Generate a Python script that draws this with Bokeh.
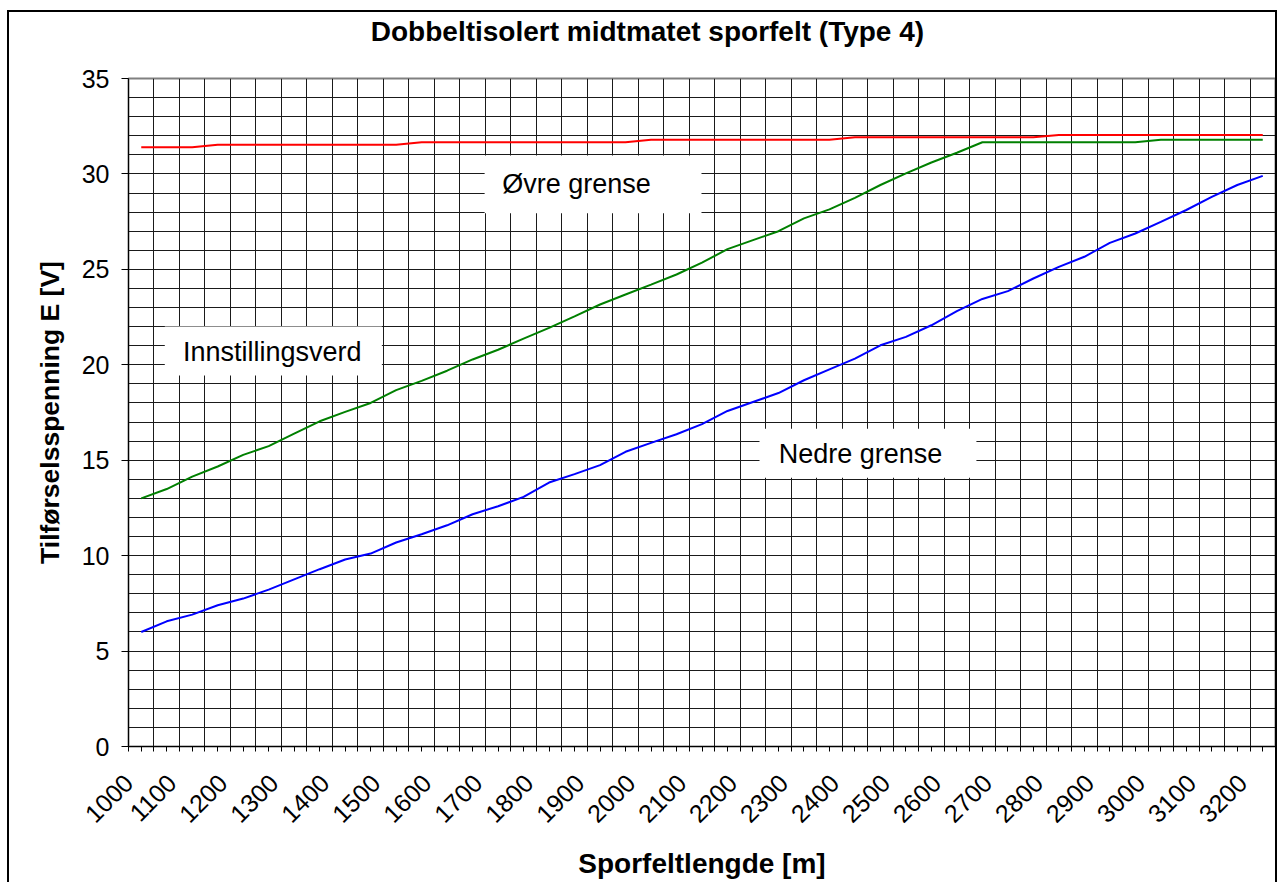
import math
from bokeh.plotting import figure
from bokeh.models import Range1d, FixedTicker, BoxAnnotation, Label, LinearAxis
from bokeh.embed import file_html
from bokeh.resources import INLINE

# ---------------- data ----------------
lengths = [1000, 1050, 1100, 1150, 1200, 1250, 1300, 1350, 1400, 1450,
           1500, 1550, 1600, 1650, 1700, 1750, 1800, 1850, 1900, 1950,
           2000, 2050, 2100, 2150, 2200, 2250, 2300, 2350, 2400, 2450,
           2500, 2550, 2600, 2650, 2700, 2750, 2800, 2850, 2900, 2950,
           3000, 3050, 3100, 3150, 3200]

upper = [31.4, 31.4, 31.4, 31.53, 31.53, 31.53, 31.53, 31.53, 31.53, 31.53,
         31.53, 31.66, 31.66, 31.66, 31.66, 31.66, 31.66, 31.66, 31.66, 31.66,
         31.79, 31.79, 31.79, 31.79, 31.79, 31.79, 31.79, 31.79, 31.92, 31.92,
         31.92, 31.92, 31.92, 31.92, 31.92, 31.92, 32.04, 32.04, 32.04, 32.04,
         32.04, 32.04, 32.04, 32.04, 32.04]

setting = [13.0, 13.49, 14.14, 14.67, 15.28, 15.74, 16.39, 17.04, 17.53, 18.0,
           18.67, 19.16, 19.69, 20.28, 20.79, 21.37, 21.93, 22.54, 23.16, 23.68,
           24.2, 24.73, 25.35, 26.06, 26.53, 27.0, 27.67, 28.14, 28.75, 29.42,
           30.03, 30.6, 31.11, 31.66, 31.66, 31.66, 31.66, 31.66, 31.66, 31.66,
           31.79, 31.79, 31.79, 31.79, 31.79]

lower = [6.0, 6.56, 6.91, 7.4, 7.75, 8.22, 8.76, 9.29, 9.8, 10.11,
         10.69, 11.12, 11.59, 12.17, 12.59, 13.08, 13.83, 14.27, 14.74, 15.44,
         15.91, 16.36, 16.89, 17.58, 18.05, 18.52, 19.19, 19.76, 20.32, 21.02,
         21.46, 22.07, 22.81, 23.45, 23.86, 24.52, 25.13, 25.66, 26.39, 26.88,
         27.49, 28.11, 28.8, 29.42, 29.9]

x_tick_labels = ["1000", "1100", "1200", "1300", "1400", "1500", "1600", "1700",
                 "1800", "1900", "2000", "2100", "2200", "2300", "2400", "2500",
                 "2600", "2700", "2800", "2900", "3000", "3100", "3200"]
y_ticks = [0, 5, 10, 15, 20, 25, 30, 35]

title_text = "Dobbeltisolert midtmatet sporfelt (Type 4)"
x_title = "Sporfeltlengde [m]"
y_title = "Tilførselsspenning E [V]"

# ---------------- layout helpers ----------------
FONT = "Liberation Sans"
step = lengths[1] - lengths[0]
half = step / 2
x_start = lengths[0] - half
x_end = lengths[-1] + half

p = figure(width=1270, height=872,
           x_range=Range1d(x_start, x_end), y_range=Range1d(0, 35),
           output_backend="svg", toolbar_location=None,
           min_border_left=119, min_border_right=4,
           min_border_top=66, min_border_bottom=138,
           background_fill_color="white", border_fill_color="white")

# chart-area border (Excel chart frame)
p.styles = {"margin-left": "7px", "margin-top": "10px",
            "border-top": "2px solid black", "border-left": "2px solid black",
            "border-right": "2px solid black"}

# plot-area border
p.outline_line_color = "#808080"
p.outline_line_width = 2

# ---------------- grids ----------------
boundaries = [x_start + step * k for k in range(1, len(lengths))]
xg = p.xgrid[0]
xg.ticker = FixedTicker(ticks=boundaries)
xg.grid_line_color = "#1a1a1a"
xg.grid_line_width = 1

yg = p.ygrid[0]
yg.ticker = FixedTicker(ticks=list(range(1, 35)))
yg.grid_line_color = "#1a1a1a"
yg.grid_line_width = 1

# ---------------- axes ----------------
# visible small tick marks every half category (minor ticks);
# invisible major ticks only carry the rotated category labels
half_ticks = [x_start + half * k for k in range(0, 2 * len(lengths) + 1)]
label_shift = 40  # rotated Excel labels sit left of their category centre
label_pos = [max(x_start, int(s) - label_shift) for s in x_tick_labels]
overrides = {pos: s for pos, s in zip(label_pos, x_tick_labels)}

xa = p.xaxis[0]
xa.ticker = FixedTicker(ticks=label_pos, minor_ticks=half_ticks)
xa.major_label_overrides = overrides
xa.major_label_orientation = math.pi / 4
xa.major_tick_out = 28
xa.major_tick_in = 0
xa.major_tick_line_color = None
xa.minor_tick_out = 5
xa.minor_tick_in = 0
xa.minor_tick_line_color = "black"
xa.axis_line_color = "black"
xa.major_label_text_font = FONT
xa.major_label_text_font_size = "25px"
xa.major_label_text_color = "black"
xa.major_label_standoff = 4
xa.axis_label = x_title
xa.axis_label_text_font = FONT
xa.axis_label_text_font_style = "bold"
xa.axis_label_text_font_size = "28px"
xa.axis_label_text_color = "black"
xa.axis_label_standoff = 14

ya = p.yaxis[0]
ya.ticker = FixedTicker(ticks=y_ticks)
ya.major_tick_out = 7
ya.major_tick_in = 0
ya.minor_tick_out = 0
ya.minor_tick_in = 0
ya.axis_line_color = "black"
ya.major_tick_line_color = "black"
ya.major_label_text_font = FONT
ya.major_label_text_font_size = "25px"
ya.major_label_text_color = "black"
ya.major_label_standoff = 12
ya.axis_label = y_title
ya.axis_label_text_font = FONT
ya.axis_label_text_font_style = "bold"
ya.axis_label_text_font_size = "26.5px"
ya.axis_label_text_color = "black"
ya.axis_label_standoff = 14

# chart title: centred on the whole chart area (not the plot area), so it is
# placed as a single label on a bare axis above the plot
title_x = 1993
title_axis = LinearAxis(ticker=FixedTicker(ticks=[title_x]),
                        major_label_overrides={title_x: title_text},
                        major_tick_out=0, major_tick_in=0,
                        minor_tick_out=0, minor_tick_in=0,
                        axis_line_color=None,
                        major_label_standoff=32,
                        major_label_text_font=FONT,
                        major_label_text_font_style="bold",
                        major_label_text_font_size="28px",
                        major_label_text_color="black")
p.add_layout(title_axis, "above")

# ---------------- series ----------------
p.line(lengths, upper, line_color="#FF0000", line_width=2)
p.line(lengths, setting, line_color="#008000", line_width=2)
p.line(lengths, lower, line_color="#0000FF", line_width=2)

# ---------------- text boxes ----------------
boxes = [
    ("Øvre grense", 1673.6, 2099.0, 27.94, 30.97, 1854.0, 29.45),
    ("Innstillingsverd", 1046.2, 1472.0, 19.44, 22.01, 1257.0, 20.65),
    ("Nedre grense", 2212.8, 2638.3, 14.08, 16.65, 2411.0, 15.34),
]
for txt, l, r, b, t, cx, cy in boxes:
    p.add_layout(BoxAnnotation(left=l, right=r, bottom=b, top=t,
                               fill_color="white", fill_alpha=1.0,
                               line_color=None, level="overlay"))
    p.add_layout(Label(x=cx, y=cy, text=txt, text_align="center",
                       text_baseline="middle", text_font=FONT,
                       text_font_size="27px", text_color="black",
                       level="overlay"))

open("out.html", "w").write(file_html(p, INLINE))
